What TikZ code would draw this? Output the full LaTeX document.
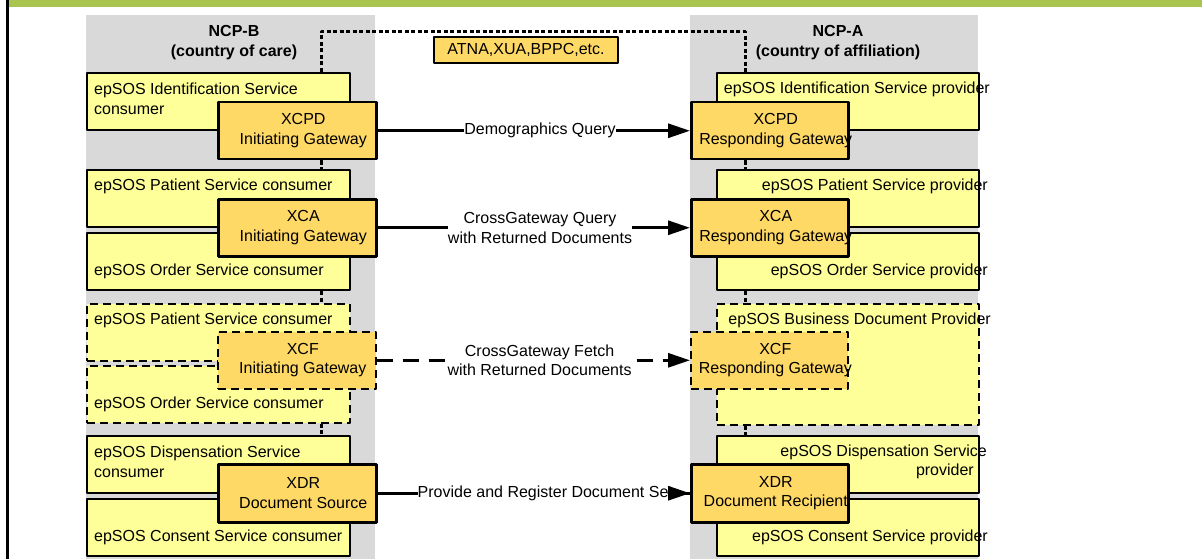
\documentclass[tikz,border=0pt]{standalone}
\usepackage{fontspec}
\setmainfont{Liberation Sans}
\usepackage{tikz}
\usetikzlibrary{arrows.meta}
\usetikzlibrary{positioning}

\definecolor{panelgrey}{RGB}{217,217,217}
\definecolor{svcyellow}{RGB}{255,255,153}
\definecolor{gwgold}{RGB}{255,217,102}
\definecolor{bargreen}{RGB}{170,196,80}

\begin{document}
\begin{tikzpicture}[x=1pt,y=-1pt,line cap=round,line join=round,>={Triangle[length=22pt,width=14pt]},
    every node/.style={font=\fontsize{16}{19.5}\selectfont,inner sep=0pt},
    hdr/.style={align=center,font=\fontsize{16}{20}\selectfont\bfseries},
    svc/.style={draw,line width=2.3pt,fill=svcyellow,minimum width=263pt,minimum height=57pt,anchor=north west},
    svcopt/.style={svc,line width=1.6pt,line cap=butt,dash pattern=on 8pt off 5pt},
    gw/.style={draw,line width=2.5pt,fill=gwgold,minimum width=158pt,minimum height=57pt,anchor=north west},
    gwopt/.style={gw,line width=1.6pt,line cap=butt,dash pattern=on 8pt off 5pt},
    svctxt/.style={align=left,anchor=west},
    provtxt/.style={align=right,anchor=east},
    gwtxt/.style={align=center},
    lbl/.style={fill=white,align=center},
    flow/.style={->,line width=3pt},
    bus/.style={line width=3pt,line cap=butt,dash pattern=on 4pt off 2.5pt}]
        \useasboundingbox (0,0) rectangle (1202,559);
        % frame
        \fill[bargreen] (8,0) rectangle (1202,7);
        \fill[black] (5.5,0) rectangle (8.5,559);
        \fill[panelgrey] (86,15) rectangle (375,559);
        \fill[panelgrey] (690,15) rectangle (978,559);
        \node[hdr] (hdrB) at (234,43) {NCP-B\\(country of care)};
        \node[hdr] (hdrA) at (838,43) {NCP-A\\(country of affiliation)};
        % 
        \coordinate (busB) at (321,32);
        \coordinate (busA) at (745,32);
        \node[draw,line width=2.3pt,fill=gwgold,minimum width=184pt,minimum height=26pt] (atna) at (526,50) {ATNA,XUA,BPPC,etc.};
        % NCP-B
        \node[svc] (idB) at (86,72) {};
        \node[svc] (patB) at (86,169) {};
        \node[svc] (ordB) at (86,232) {};
        \node[svcopt] (patBx) at (86,303) {};
        \node[svcopt] (ordBx) at (86,365) {};
        \node[svc] (dispB) at (86,435) {};
        \node[svc] (consB) at (86,498) {};
        \node[svctxt] (idBt) at (94,99) {epSOS Identification Service\\consumer};
        \node[svctxt] (patBt) at (94,186) {epSOS Patient Service consumer};
        \node[svctxt] (ordBt) at (94,271) {epSOS Order Service consumer};
        \node[svctxt] (patBxt) at (94,320) {epSOS Patient Service consumer};
        \node[svctxt] (ordBxt) at (94,404) {epSOS Order Service consumer};
        \node[svctxt] (dispBt) at (94,462) {epSOS Dispensation Service\\consumer};
        \node[svctxt] (consBt) at (94,537) {epSOS Consent Service consumer};
        % NCP-A
        \node[svc,minimum width=262pt] (idA) at (716,72) {};
        \node[svc,minimum width=262pt] (patA) at (716,169) {};
        \node[svc,minimum width=262pt] (ordA) at (716,232) {};
        \node[svcopt,minimum width=262pt,minimum height=121pt] (bizA) at (716,303) {};
        \node[svc,minimum width=262pt] (dispA) at (716,435) {};
        \node[svc,minimum width=262pt] (consA) at (716,498) {};
        \node[provtxt] (idAt) at (990,89) {epSOS Identification Service provider};
        \node[provtxt] (patAt) at (988,186) {epSOS Patient Service provider};
        \node[provtxt] (ordAt) at (988,271) {epSOS Order Service provider};
        \node[provtxt] (bizAt) at (991,320) {epSOS Business Document Provider};
        \node[provtxt] (dispAt) at (987,462) {epSOS Dispensation Service\\provider\hspace*{13pt}};
        \node[provtxt] (consAt) at (988,537) {epSOS Consent Service provider};
        % gateways
        \node[gw] (xcpdI) at (217,101) {};
        \node[gw] (xcaI) at (217,198) {};
        \node[gwopt] (xcfI) at (217,331) {};
        \node[gw,minimum height=58pt] (xdrS) at (217,463) {};
        \node[gw,minimum width=157pt] (xcpdR) at (690,101) {};
        \node[gw,minimum width=157pt] (xcaR) at (690,198) {};
        \node[gwopt,minimum width=157pt] (xcfR) at (690,331) {};
        \node[gw,minimum width=157pt,minimum height=58pt] (xdrR) at (690,463) {};
        \node[gwtxt] (xcpdIt) at ([xshift=6pt]xcpdI.center) {XCPD\\Initiating Gateway};
        \node[gwtxt] (xcaIt) at ([xshift=6pt]xcaI.center) {XCA\\Initiating Gateway};
        \node[gwtxt] (xcfIt) at ([xshift=6pt]xcfI.center) {XCF\\Initiating Gateway};
        \node[gwtxt] (xdrSt) at ([xshift=6pt]xdrS.center) {XDR\\Document Source};
        \node[gwtxt] (xcpdRt) at ([xshift=6pt]xcpdR.center) {XCPD\\Responding Gateway};
        \node[gwtxt] (xcaRt) at ([xshift=6pt]xcaR.center) {XCA\\Responding Gateway};
        \node[gwtxt] (xcfRt) at ([xshift=6pt]xcfR.center) {XCF\\Responding Gateway};
        \node[gwtxt] (xdrRt) at ([xshift=6pt]xdrR.center) {XDR\\Document Recipient};
        % dotted links
        \draw[bus] (idB.north -| busB) -- (busB) -- (busA) -- (idA.north -| busA);
        \draw[bus] (xcpdI.south -| busB) -- (patB.north -| busB);
        \draw[bus] (ordB.south -| busB) -- (patBx.north -| busB);
        \draw[bus] (ordBx.south -| busB) -- (dispB.north -| busB);
        \draw[bus] (xcpdR.south -| busA) -- (patA.north -| busA);
        \draw[bus] (ordA.south -| busA) -- (bizA.north -| busA);
        \draw[bus] (bizA.south -| busA) -- (dispA.north -| busA);
        % flows
        \draw[flow] (xcpdI) -- node[lbl,pos=0.52] (dqry) {Demographics Query} (xcpdR);
        \draw[flow] (xcaI) -- node[lbl,pos=0.52] (cgqry) {CrossGateway Query\\with Returned Documents} (xcaR);
        \draw[flow,line cap=butt,dash pattern=on 16pt off 10pt] (xcfI) -- node[lbl,pos=0.52] (cgfetch) {CrossGateway Fetch\\with Returned Documents} (xcfR);
        \draw[line width=3pt] (xdrS) -- (xdrR);
        \node[lbl,right=40pt of xdrS.east] (prov) {Provide and Register Document Set};
        \draw[flow] (prov.east) -- (xdrR.west);
\end{tikzpicture}
\end{document}
